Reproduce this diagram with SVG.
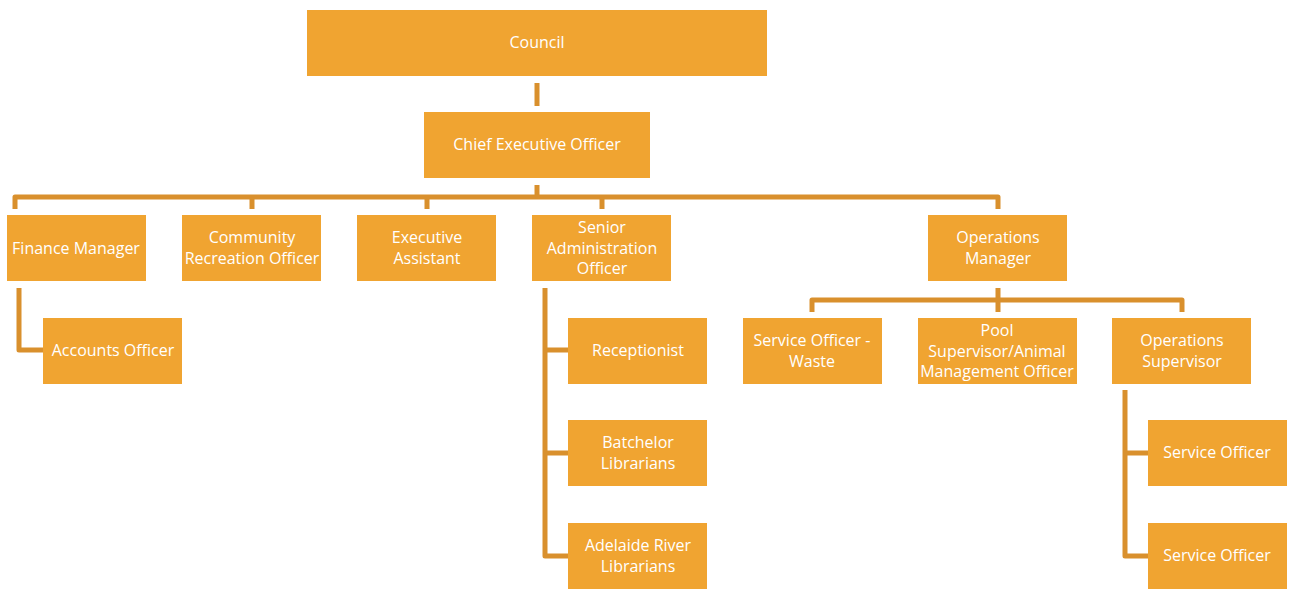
<svg xmlns="http://www.w3.org/2000/svg" width="1290" height="590" viewBox="0 0 1290 590">
<style>
.b{fill:#F0A431}
.t{fill:#fff;font-family:"Open Sans","Noto Sans",sans-serif;font-size:16px;text-anchor:middle}
.c{fill:none;stroke:#D9902D;stroke-width:5;stroke-linejoin:round}
</style>
<rect width="1290" height="590" fill="#fff"/>
<g id="connectors">
<path class="c" d="M537 83V106"/>
<path class="c" d="M537 185V197"/>
<path class="c" d="M15 209V197H998V209M252 197V209M427 197V209M602 197V209"/>
<path class="c" d="M19 288V350H43"/>
<path class="c" d="M545 288V556H568M545 350H568M545 453H568"/>
<path class="c" d="M998 288V312M812 312V300H1182V312"/>
<path class="c" d="M1125 390V556H1148M1125 453H1148"/>
</g>
<g id="council"><rect class="b" x="307" y="10" width="460" height="66"/><text class="t" x="537" y="48">Council</text></g>
<g id="ceo"><rect class="b" x="424" y="112" width="226" height="66"/><text class="t" x="537" y="150">Chief Executive Officer</text></g>
<g id="finance"><rect class="b" x="7" y="215" width="139" height="66"/><text class="t" x="76" y="254">Finance Manager</text></g>
<g id="community"><rect class="b" x="182" y="215" width="139" height="66"/><text class="t" x="252" y="243">Community</text><text class="t" x="252" y="264">Recreation Officer</text></g>
<g id="exec"><rect class="b" x="357" y="215" width="139" height="66"/><text class="t" x="427" y="243">Executive</text><text class="t" x="427" y="264">Assistant</text></g>
<g id="senior"><rect class="b" x="532" y="215" width="139" height="66"/><text class="t" x="602" y="233">Senior</text><text class="t" x="602" y="254">Administration</text><text class="t" x="602" y="274">Officer</text></g>
<g id="opsmgr"><rect class="b" x="928" y="215" width="139" height="66"/><text class="t" x="998" y="243">Operations</text><text class="t" x="998" y="264">Manager</text></g>
<g id="accounts"><rect class="b" x="43" y="318" width="139" height="66"/><text class="t" x="113" y="356">Accounts Officer</text></g>
<g id="reception"><rect class="b" x="568" y="318" width="139" height="66"/><text class="t" x="638" y="356">Receptionist</text></g>
<g id="batchelor"><rect class="b" x="568" y="420" width="139" height="66"/><text class="t" x="638" y="448">Batchelor</text><text class="t" x="638" y="469">Librarians</text></g>
<g id="adelaide"><rect class="b" x="568" y="523" width="139" height="66"/><text class="t" x="638" y="551">Adelaide River</text><text class="t" x="638" y="572">Librarians</text></g>
<g id="waste"><rect class="b" x="743" y="318" width="139" height="66"/><text class="t" x="812" y="346">Service Officer -</text><text class="t" x="812" y="367">Waste</text></g>
<g id="pool"><rect class="b" x="918" y="318" width="159" height="66"/><text class="t" x="997" y="336">Pool</text><text class="t" x="997" y="357">Supervisor/Animal</text><text class="t" x="997" y="377">Management Officer</text></g>
<g id="opssup"><rect class="b" x="1112" y="318" width="139" height="66"/><text class="t" x="1182" y="346">Operations</text><text class="t" x="1182" y="367">Supervisor</text></g>
<g id="svc1"><rect class="b" x="1148" y="420" width="139" height="66"/><text class="t" x="1217" y="458">Service Officer</text></g>
<g id="svc2"><rect class="b" x="1148" y="523" width="139" height="66"/><text class="t" x="1217" y="561">Service Officer</text></g>
</svg>
